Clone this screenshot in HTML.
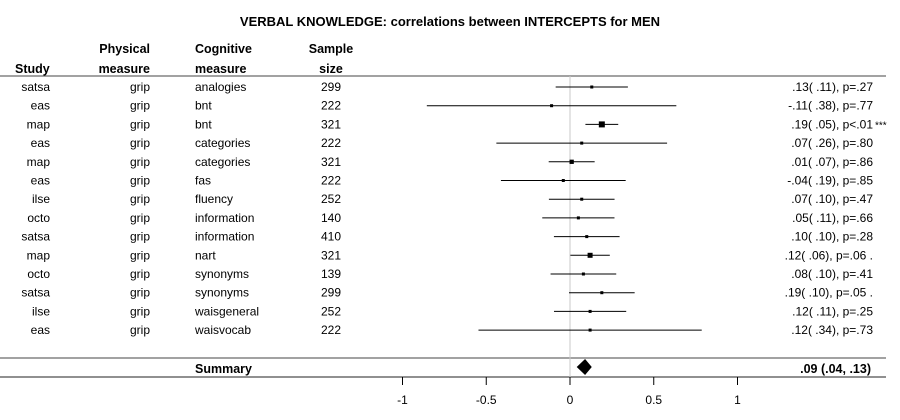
<!DOCTYPE html>
<html><head><meta charset="utf-8"><style>
html,body{margin:0;padding:0;background:#fff;}
svg{display:block;font-family:"Liberation Sans",Arial,sans-serif;}
</style></head><body>
<svg id="chart" width="900" height="420">
<text x="450" y="26" text-anchor="middle" font-size="13" font-weight="bold">VERBAL KNOWLEDGE: correlations between INTERCEPTS for MEN</text>
<g font-size="12.5" font-weight="bold" fill="#000">
<text x="15" y="73">Study</text>
<text x="150" y="53" text-anchor="end">Physical</text>
<text x="150" y="73" text-anchor="end">measure</text>
<text x="195" y="53">Cognitive</text>
<text x="195" y="73">measure</text>
<text x="331" y="53" text-anchor="middle">Sample</text>
<text x="331" y="73" text-anchor="middle">size</text>
</g>
<line x1="0" y1="76" x2="886" y2="76" stroke="#444" stroke-width="1"/>
<line x1="0" y1="358" x2="886" y2="358" stroke="#444" stroke-width="1"/>
<line x1="0" y1="377" x2="886" y2="377" stroke="#222" stroke-width="1"/>
<g id="axis"></g>
<g id="rows"></g>
<text x="195" y="373" font-size="12.5" font-weight="bold">Summary</text>
<text x="871" y="373" font-size="12.5" font-weight="bold" text-anchor="end">.09 (.04, .13)</text>
</svg>
<script>
const studies=["satsa","eas","map","eas","map","eas","ilse","octo","satsa","map","octo","satsa","ilse","eas"];
const physical=["grip","grip","grip","grip","grip","grip","grip","grip","grip","grip","grip","grip","grip","grip"];
const cognitive=["analogies","bnt","bnt","categories","categories","fas","fluency","information","information","nart","synonyms","synonyms","waisgeneral","waisvocab"];
const sampleSizes=[299,222,321,222,321,222,252,140,410,321,139,299,252,222];
const estimates=[0.13,-0.11,0.19,0.07,0.01,-0.04,0.07,0.05,0.10,0.12,0.08,0.19,0.12,0.12];
const stdErrors=[0.11,0.38,0.05,0.26,0.07,0.19,0.10,0.11,0.10,0.06,0.10,0.10,0.11,0.34];
const pLabels=[".27",".77","<.01 ***",".80",".86",".85",".47",".66",".28",".06 .",".41",".05 .",".25",".73"];
const summaryEst=0.09, summaryLo=0.04, summaryHi=0.13;
const xTicks=[-1,-0.5,0,0.5,1];
const xTickLabels=["-1","-0.5","0","0.5","1"];

const NS="http://www.w3.org/2000/svg";
const svg=document.getElementById('chart');
const x=v=>570+v*167.5;
const rowY=i=>87+i*18.7;
function mk(tag,attrs,parent,txt){const e=document.createElementNS(NS,tag);for(const k in attrs)e.setAttribute(k,attrs[k]);if(txt!==undefined)e.textContent=txt;parent.appendChild(e);return e;}
function fmt(v){let s=Math.abs(v).toFixed(2).replace(/^0/,'');return (v<0?'-':'')+s;}

const axis=document.getElementById('axis');
const zl=mk('line',{x1:x(0),y1:76,x2:x(0),y2:377,stroke:'#c8c8c8','stroke-width':1},axis);


xTicks.forEach((t,i)=>{
  const tk=mk('line',{x1:x(t),y1:377,x2:x(t),y2:385,stroke:'#000'},axis);
  
  
  const tl=mk('text',{x:x(t),y:404,'text-anchor':'middle','font-size':12},axis,xTickLabels[i]);
  
  
});

const rows=document.getElementById('rows');
estimates.forEach((e,i)=>{
  const y=rowY(i), se=stdErrors[i];
  const g=mk('g',{'font-size':12},rows);
  
  
  const t1=mk('text',{x:50,y:y+4,'text-anchor':'end'},g,studies[i]);
  
  
  const t2=mk('text',{x:150,y:y+4,'text-anchor':'end'},g,physical[i]);
  
  
  const t3=mk('text',{x:195,y:y+4},g,cognitive[i]);
  
  
  const t4=mk('text',{x:331,y:y+4,'text-anchor':'middle'},g,String(sampleSizes[i]));
  
  
  const ci=mk('line',{x1:x(e-1.96*se),y1:y,x2:x(e+1.96*se),y2:y,stroke:'#000','stroke-width':1},g);
  
  
  const s=Math.max(3,Math.min(7,0.3/se));
  const b=mk('rect',{x:x(e)-s/2,y:y-s/2,width:s,height:s,fill:'#000'},g);
  
  
  const p=pLabels[i], stars=p.indexOf(' ***')>=0;
  const base=fmt(e)+'( '+fmt(se)+'), p'+(p[0]==='<'?'':'=')+p.replace(' ***','');
  const vt=mk('text',{x:873,y:y+4,'text-anchor':'end'},g,base);
  
  
  if(stars){
    const st=mk('text',{x:875,y:y+4,'font-size':10},g,'***');
    
    
  }
});
const yc=367;
const d=mk('polygon',{points:`${x(summaryLo)},${yc} ${x(summaryEst)},${yc-8} ${x(summaryHi)},${yc} ${x(summaryEst)},${yc+8}`,fill:'#000'},svg);


</script>
</body></html>
